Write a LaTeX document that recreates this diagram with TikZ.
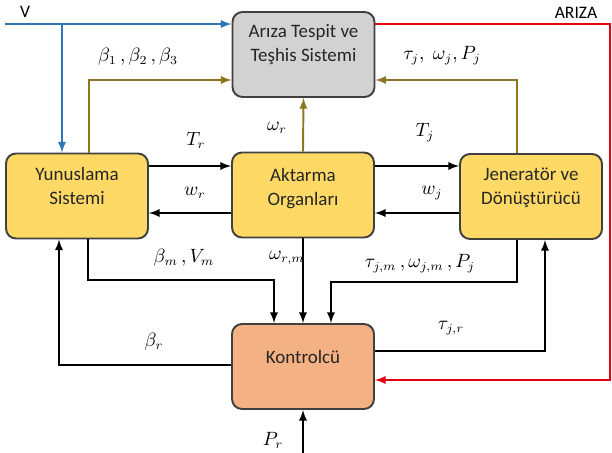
\documentclass[tikz,border=0pt]{standalone}
\usepackage[no-math]{fontspec}
\setmainfont{Carlito}
\usepackage{tikz}
\definecolor{boxgray}{RGB}{210,210,210}
\definecolor{boxyellow}{RGB}{255,217,102}
\definecolor{boxorange}{RGB}{244,177,131}
\definecolor{boxline}{RGB}{64,64,64}
\definecolor{windblue}{RGB}{46,117,182}
\definecolor{faultred}{RGB}{226,0,18}
\definecolor{measolive}{RGB}{140,118,32}

\begin{document}
\begin{tikzpicture}[x=0.02cm, y=-0.02cm, >=latex, line width=1.1pt,
  font=\fontsize{10}{13}\selectfont,
  box/.style={draw=boxline, rounded corners=0.2cm, align=center,
    minimum width=2.84cm, minimum height=1.7cm,
    font=\fontsize{10.8}{13.5}\selectfont,
    text height=#1, text depth=0pt, text=black!85},
  lbl/.style={font=\fontsize{10.5}{12}\selectfont},
  wind/.style={draw=windblue, ->},
  fault/.style={draw=faultred, ->},
  meas/.style={draw=measolive, ->}]
\useasboundingbox (0,0) rectangle (612,453);

% blocks
\node[box=0.28cm, fill=boxgray] (fds) at (303.5,54.5) {Arıza Tespit ve\\Teşhis Sistemi};
\node[box=0.34cm, fill=boxyellow] (pitch) at (77,196) {Yunuslama\\Sistemi};
\node[box=0.42cm, fill=boxyellow] (drive) at (303,195) {Aktarma\\Organları};
\node[box=0.32cm, fill=boxyellow] (gen) at (531,196.5) {Jeneratör ve\\Dönüştürücü};
\node[box=0pt, text depth=0.12cm, fill=boxorange] (ctrl) at (303,366.5) {Kontrolcü};

% helper points
\coordinate (vin) at (5,24);
\coordinate (vbr) at (62,24);
\coordinate (fr) at (610,24);
\coordinate (fr2) at (610,380);
\coordinate (b1) at (89,80);
\coordinate (tj) at (517,80);
\coordinate (rowT) at (0,166);
\coordinate (rowW) at (0,213);
\coordinate (bm) at (88,280);
\coordinate (tm) at (517,282);
\coordinate (br) at (59,365);
\coordinate (tr) at (545,351);
\coordinate (pin) at (303,453);

% wind speed and fault signal
\draw[wind] (vin) -- (vin -| fds.west);
\draw[wind] (vbr) -- (vbr |- pitch.north);
\draw[fault] (fds.east |- fr) -- (fr) -- (fr2) -- (ctrl.east |- fr2);

% measurements to fault detection
\draw[meas] (b1 |- pitch.north) -- (b1) -- (b1 -| fds.west);
\draw[meas] (drive.north) -- (fds.south);
\draw[meas] (tj |- gen.north) -- (tj) -- (tj -| fds.east);

% drive train coupling
\draw[->] (pitch.east |- rowT) -- (drive.west |- rowT);
\draw[->] (drive.west |- rowW) -- (pitch.east |- rowW);
\draw[->] (drive.east |- rowT) -- (gen.west |- rowT);
\draw[->] (gen.west |- rowW) -- (drive.east |- rowW);

% controller loop
\draw[->] (bm |- pitch.south) -- (bm) -| ([xshift=-0.58cm]ctrl.north);
\draw[->] (drive.south) -- (ctrl.north);
\draw[->] (tm |- gen.south) -- (tm) -| ([xshift=0.56cm]ctrl.north);
\draw[->] (ctrl.west |- br) -- (br) -- (br |- pitch.south);
\draw[->] (ctrl.east |- tr) -- (tr) -- (tr |- gen.south);
\draw[->] (pin) -- (ctrl.south);

% signal names
\node (lv) at (25,12) {V};
\node (lfault) at (576,13) {ARIZA};
\node[lbl] (lbeta) at (138,57) {$\beta_1\,,\beta_2\,,\beta_3$};
\node[lbl] (lwr) at (277,128) {$\omega_r$};
\node[lbl] (lgen) at (442,56) {$\tau_j,\;\omega_j,P_j$};
\node[lbl] (lTr) at (196,140) {$T_r$};
\node[lbl] (lTj) at (425,133) {$T_j$};
\node[lbl] (lwrr) at (195,193) {$w_r$};
\node[lbl] (lwj) at (432,193) {$w_j$};
\node[lbl] (lbm) at (184,258) {$\beta_m\,,V_m$};
\node[lbl] (lwrm) at (287,258) {$\omega_{r,m}$};
\node[lbl] (lgm) at (420,264) {$\tau_{j,m}\,,\omega_{j,m}\,,P_j$};
\node[lbl] (lbr) at (154,342) {$\beta_r$};
\node[lbl] (ltr) at (451,328) {$\tau_{j,r}$};
\node[lbl] (lpr) at (273,440) {$P_r$};
\end{tikzpicture}
\end{document}
